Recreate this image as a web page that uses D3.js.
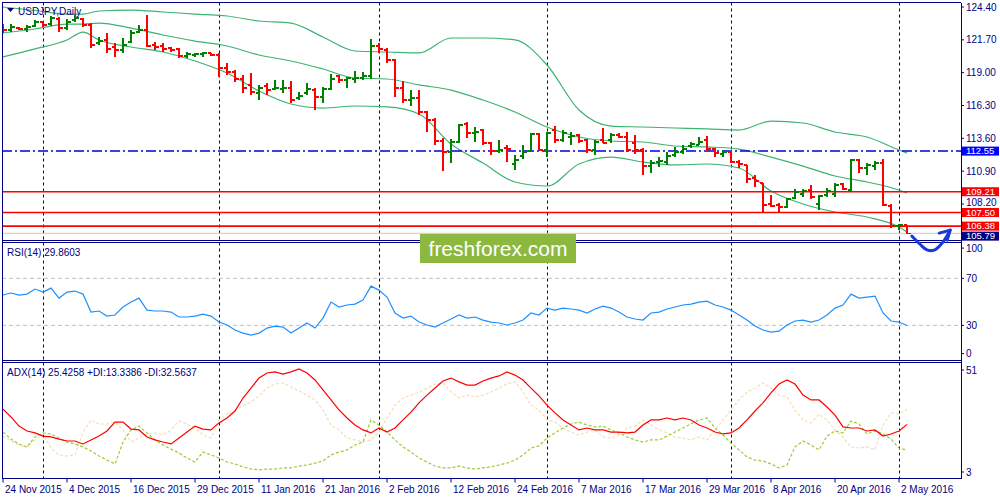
<!DOCTYPE html>
<html><head><meta charset="utf-8">
<script src="https://cdn.jsdelivr.net/npm/d3@7"></script>
<style>body{margin:0;background:#fff}svg{display:block}text{font-family:"Liberation Sans",Arial,sans-serif}</style>
</head><body><svg id="c" width="1000" height="500"></svg>
<script>
// ---------- DATA ----------
const open=[122.76,122.51,122.67,122.59,122.84,123.17,123.00,123.41,122.67,123.33,
123.41,122.92,121.44,121.69,121.11,120.86,121.52,122.34,122.51,121.27,
121.19,121.03,120.95,120.37,120.45,120.53,120.62,120.45,119.38,119.05,
118.48,117.99,117.33,117.90,117.66,117.66,117.74,116.92,117.33,117.57,
117.00,117.66,118.73,118.40,118.48,118.56,118.73,121.19,120.86,120.04,
117.74,116.75,116.92,115.76,115.11,113.38,112.48,113.30,114.78,114.04,
114.28,113.22,112.56,112.80,111.49,112.15,112.56,113.96,112.64,114.28,
113.46,113.71,113.87,113.46,112.64,113.46,113.46,113.87,113.71,113.22,
112.64,111.32,111.65,111.65,112.23,112.48,112.97,113.05,113.46,112.72,
112.31,112.48,111.65,111.41,110.34,109.93,108.20,108.12,107.95,108.69,
109.02,109.35,108.20,108.94,109.02,109.84,109.35,111.82,111.16,111.32,
111.57,108.03,106.39,106.47];
const high=[123.00,123.00,122.76,122.92,123.33,123.25,123.66,123.58,123.41,123.74,
123.50,123.08,121.93,122.26,121.44,121.85,122.51,122.92,123.74,121.52,
121.44,121.11,121.03,120.70,120.62,120.70,120.62,120.62,119.79,119.22,
118.81,118.97,117.99,118.15,118.40,118.40,118.31,117.41,118.15,117.74,
117.82,118.89,118.81,118.64,119.14,119.05,121.77,121.44,121.03,120.12,
118.31,117.57,117.57,115.85,115.27,113.63,113.54,114.78,114.94,114.53,
114.37,113.30,113.46,113.05,112.23,113.05,114.04,114.04,114.12,114.61,
114.28,114.12,113.96,113.54,113.46,114.45,114.04,114.04,114.12,113.87,
112.80,111.82,112.06,112.48,112.89,113.05,113.30,113.71,113.79,112.80,
112.64,112.56,111.82,111.41,110.58,109.93,108.94,108.28,108.69,109.43,
109.43,109.76,108.94,109.51,109.93,109.93,111.90,111.90,111.57,111.74,
111.90,108.20,106.55,106.47];
const low=[122.26,122.34,122.51,122.34,122.76,122.76,122.84,122.34,122.51,123.17,
122.76,121.03,121.27,120.62,120.29,120.62,121.44,122.26,121.11,120.86,
120.70,120.70,120.21,120.21,120.29,120.29,120.37,118.64,118.81,118.23,
117.33,117.16,116.75,117.16,117.57,117.33,116.50,116.75,117.16,115.93,
116.50,117.57,118.15,117.74,118.15,118.40,118.48,120.62,119.79,117.00,
116.50,116.26,115.52,114.12,113.05,110.91,111.57,113.22,113.63,113.30,
113.05,112.23,112.39,111.65,111.00,111.90,112.48,112.64,112.06,113.22,
113.30,113.05,113.22,112.39,112.23,113.22,113.22,113.63,112.48,112.31,
110.58,110.75,111.24,111.41,112.06,112.31,112.80,113.05,112.48,112.06,
112.06,111.57,111.16,109.93,109.60,107.54,107.95,107.54,107.87,108.61,
108.78,108.61,107.71,108.78,108.78,109.35,109.19,110.75,110.58,111.00,
108.03,106.23,106.06,105.70];
const close=[122.51,122.76,122.59,122.76,123.17,122.92,123.50,122.67,123.17,123.50,
122.92,121.27,121.60,120.95,120.86,121.27,122.26,122.51,121.19,121.11,
120.95,120.86,120.37,120.53,120.53,120.62,120.45,119.38,119.05,118.48,
117.74,117.41,117.74,117.57,117.74,117.74,116.75,117.08,117.66,117.00,
117.66,118.48,118.40,118.56,118.56,118.73,121.19,120.95,120.04,117.74,
116.75,116.92,115.76,115.11,113.38,112.48,113.30,114.70,114.04,114.12,
113.22,112.56,112.64,112.72,111.82,112.48,113.96,112.64,114.04,113.46,
114.04,113.79,113.38,112.64,113.30,113.22,113.87,113.71,112.64,112.64,
111.32,111.57,111.74,112.15,112.48,112.72,113.13,113.30,112.72,112.39,
112.48,111.65,111.49,110.26,110.09,108.12,108.03,107.95,108.61,109.19,
109.27,108.78,108.86,109.27,109.76,109.43,111.82,111.16,111.41,111.57,
108.12,106.39,106.47,105.79];

// Bollinger Bands (20,2) read at sample bars
const bbIdx=[0,4,8,10,12,16,20,24,28,32,36,40,44,48,52,56,60,64,68,72,76,80,84,88,92,96,100,104,108,112,113];
const bbUpper=[124.40,124.11,123.82,123.82,124.07,124.15,123.99,123.82,123.66,123.25,123.08,121.93,120.78,120.70,120.62,121.85,121.85,121.69,119.63,115.93,114.61,114.53,114.45,114.37,114.28,115.02,114.86,114.12,113.71,112.64,112.39];
const bbMiddle=[122.26,122.59,123.00,123.00,123.08,122.67,122.10,121.60,121.19,120.45,119.96,119.30,118.56,118.48,117.99,117.57,116.75,115.76,114.53,113.71,113.38,113.30,112.97,112.89,112.72,112.06,111.32,110.50,110.01,109.35,109.10];
const bbLower=[120.29,120.95,121.69,122.34,121.69,121.11,120.70,119.96,118.97,117.49,116.42,116.09,116.26,116.18,115.60,113.13,111.57,110.01,109.68,111.49,112.06,111.65,111.41,111.49,111.16,109.27,108.20,107.54,107.13,106.31,105.90];

// RSI(14)
const rsi=[55.8,57.5,55.8,56.6,60.9,58.3,61.7,53.2,58.3,59.2,
56.6,41.3,42.2,37.9,38.8,45.6,49.8,53.2,43.0,42.2,
42.2,41.3,37.1,37.1,37.9,39.6,37.9,32.8,30.3,26.0,
23.4,21.7,23.4,27.7,29.4,28.5,23.4,27.7,32.0,27.7,
36.2,49.8,45.6,47.3,48.1,51.5,63.4,60.0,54.1,40.5,
36.2,37.9,32.8,30.3,28.5,32.0,35.4,38.8,36.2,37.1,
34.5,32.8,32.0,30.3,32.0,34.5,40.5,38.8,44.7,43.0,
44.7,43.9,43.0,40.5,43.9,46.4,44.7,41.3,37.1,35.4,
34.5,40.5,41.3,43.9,45.6,47.3,48.1,49.8,50.6,47.3,
45.6,43.0,38.8,34.5,29.4,26.0,24.3,25.1,30.3,33.7,
34.5,32.8,34.5,38.8,44.7,47.3,56.6,53.2,54.1,54.9,
40.5,33.7,32.8,29.86];

// ADX(14), +DI, -DI
const adx=[32.6,28.9,24.6,22.3,21.4,19.9,19.5,18.5,17.6,17.6,
16.2,18.1,19.9,22.3,26.5,26.5,23.2,22.8,19.5,18.1,
17.1,16.2,19.0,21.8,24.6,23.2,22.8,26.1,28.4,31.7,
37.8,42.5,47.2,49.6,50.1,49.1,50.1,51.5,49.6,46.3,
41.6,36.9,32.2,28.4,25.1,22.8,21.4,23.7,21.8,23.7,
27.5,31.2,35.5,39.2,42.5,45.8,47.2,45.4,43.9,43.9,
45.8,47.2,48.2,50.1,48.6,46.3,42.5,38.8,34.5,30.8,
27.5,25.1,22.8,23.7,22.8,22.8,21.8,21.8,21.4,21.8,
25.1,27.5,27.5,28.4,27.5,28.4,27.5,25.1,23.7,21.8,
20.9,21.4,23.7,27.5,31.7,35.5,40.2,44.4,46.3,44.4,
39.2,36.9,36.9,33.6,29.8,24.2,23.7,23.7,22.3,22.8,
19.9,20.9,22.3,25.4258];
const plusDI=[21.8,18.5,16.2,14.8,19.5,21.4,20.9,19.0,17.1,16.2,
14.8,12.9,10.5,8.6,6.8,17.1,22.8,24.6,21.4,18.1,
15.7,13.8,11.9,9.6,7.7,12.4,11.0,9.6,7.7,6.8,
5.4,4.4,4.0,4.4,4.4,4.9,4.9,5.8,6.3,7.2,
8.2,11.0,12.4,13.4,15.7,17.1,27.5,25.1,21.8,18.1,
14.8,12.4,9.6,7.7,5.8,4.9,4.9,5.8,4.9,4.4,
4.9,5.4,6.3,7.2,8.6,11.0,14.3,15.3,19.0,21.4,
23.7,25.6,26.5,25.1,24.2,24.6,22.8,21.4,19.5,18.1,
17.1,18.1,18.1,19.9,21.8,23.7,25.6,27.5,28.4,23.7,
20.4,16.6,13.4,10.1,8.6,8.2,6.8,4.9,6.3,14.8,
17.6,15.7,13.4,19.9,22.3,21.4,27.0,25.6,20.9,22.3,
20.9,18.5,14.3,13.3386];
const minusDI=[19.9,17.6,15.7,14.8,18.1,20.9,14.3,11.0,10.5,11.0,
21.8,27.5,25.6,25.6,26.5,22.8,17.1,19.0,20.9,21.4,
20.4,22.8,27.0,25.6,23.7,20.4,19.0,27.5,30.3,32.2,
34.1,36.0,38.8,42.5,44.4,44.9,43.0,41.1,39.2,36.9,
32.2,25.1,22.8,19.0,18.1,17.1,18.1,21.8,28.4,34.5,
37.8,39.2,40.6,42.5,44.4,44.9,40.6,37.8,39.2,38.3,
39.2,40.6,42.5,44.4,45.4,40.6,34.5,32.2,27.5,26.5,
23.7,21.8,20.4,21.8,22.8,19.5,19.0,20.4,23.7,24.6,
27.5,25.1,22.8,21.4,19.5,19.0,18.1,19.5,18.1,22.8,
27.5,32.2,36.9,40.6,42.5,44.9,42.5,39.2,38.3,32.2,
27.5,26.1,30.3,27.5,22.8,19.5,14.8,14.3,14.8,13.4,
25.1,30.8,30.3,32.5637];

const dateLabels=["24 Nov 2015","4 Dec 2015","16 Dec 2015","29 Dec 2015","11 Jan 2016","21 Jan 2016","2 Feb 2016","12 Feb 2016","24 Feb 2016","7 Mar 2016","17 Mar 2016","29 Mar 2016","8 Apr 2016","20 Apr 2016","2 May 2016"];
const dateLabelIdx=[0,8,16,24,32,40,48,56,64,72,80,88,96,104,112];
const separatorIdx=[5,27,47,68,91,112];
const priceTicks=[124.40,121.70,119.00,116.30,113.60,110.90,108.20];
const resistanceLevel=112.55;
const supportLevels=[109.21,107.50,106.38];
const bidPrice=105.79;
const rsiLevels=[70,30];
const rsiTicks=[100,70,30,0];
const adxTicks=[51,3];
// hand-drawn arrow (bar index, price)
const arrowIdx=[113.6,114.6,115.5,116.4,117.4,118.4];
const arrowPrice=[105.57,104.91,104.42,104.40,104.99,106.05];

// ---------- LAYOUT ----------
const svg=d3.select("#c");
const navy="#000080";
const L=2,R=961;
const main={top:2.5,bottom:240.5}, rsiP={top:242.5,bottom:360.5}, adxP={top:362.5,bottom:478.5};
const x=d3.scaleLinear().domain([0,113]).range([3,907]);
const yP=d3.scaleLinear().domain([124.4,108.2]).range([7,204]);
const yR=d3.scaleLinear().domain([0,100]).range([360.6,243.1]);
const yA=d3.scaleLinear().domain([3,51]).range([472,370]);

const defs=svg.append("defs");
[["cm",main],["cr",rsiP],["ca",adxP]].forEach(([id,p])=>{
  defs.append("clipPath").attr("id",id).append("rect").attr("x",L).attr("y",p.top).attr("width",R-L).attr("height",p.bottom-p.top);
});

// separators
svg.append("g").selectAll("line").data(separatorIdx).join("line")
  .attr("x1",d=>x(d)+0.5).attr("x2",d=>x(d)+0.5).attr("y1",main.top).attr("y2",adxP.bottom)
  .attr("stroke",navy).attr("stroke-width",1).attr("stroke-dasharray","3,3");

// main panel
const gm=svg.append("g").attr("clip-path","url(#cm)");
gm.append("line").attr("x1",L).attr("x2",R).attr("y1",yP(bidPrice)).attr("y2",yP(bidPrice)).attr("stroke","#c8c8c8").attr("stroke-width",1);
const bbLine=d3.line().x((d,k)=>x(bbIdx[k])).y(d=>yP(d)).curve(d3.curveMonotoneX);
[bbUpper,bbMiddle,bbLower].forEach(arr=>{
  gm.append("path").attr("d",bbLine(arr)).attr("fill","none").attr("stroke","#3cb371").attr("stroke-width",1.2);
});
gm.append("line").attr("x1",L).attr("x2",R).attr("y1",yP(resistanceLevel)).attr("y2",yP(resistanceLevel))
  .attr("stroke","#0000e0").attr("stroke-width",1.5).attr("stroke-dasharray","10,3,2,3");
gm.selectAll(".sup").data(supportLevels).join("line").attr("class","sup")
  .attr("x1",L).attr("x2",R).attr("y1",d=>yP(d)).attr("y2",d=>yP(d)).attr("stroke","#ff0000").attr("stroke-width",1.6);
const idx=d3.range(open.length);
gm.selectAll(".bar").data(idx).join("path").attr("class","bar")
  .attr("d",i=>`M${x(i)},${yP(high[i])}V${yP(low[i])}`)
  .attr("stroke",i=>close[i]>=open[i]?"#008000":"#ff0000").attr("stroke-width",2).attr("shape-rendering","crispEdges");
gm.selectAll(".tick").data(idx).join("path").attr("class","tick")
  .attr("d",i=>`M${x(i)-3},${yP(open[i])}H${x(i)}M${x(i)},${yP(close[i])}H${x(i)+4}`)
  .attr("stroke",i=>close[i]>=open[i]?"#008000":"#ff0000").attr("stroke-width",1.5).attr("shape-rendering","crispEdges");

// RSI panel
const gr=svg.append("g").attr("clip-path","url(#cr)");
gr.selectAll("line").data(rsiLevels).join("line").attr("x1",L).attr("x2",R).attr("y1",d=>yR(d)).attr("y2",d=>yR(d))
  .attr("stroke","#c0c0c0").attr("stroke-dasharray","4,3");
gr.append("path").attr("d",d3.line().x((d,i)=>x(i)).y(d=>yR(d))(rsi)).attr("fill","none").attr("stroke","#1e90ff").attr("stroke-width",1.2);

// ADX panel
const ga=svg.append("g").attr("clip-path","url(#ca)");
const aLine=d3.line().x((d,i)=>x(i)).y(d=>yA(d));
ga.append("path").attr("d",aLine(minusDI)).attr("fill","none").attr("stroke","#f5deb3").attr("stroke-width",1.2).attr("stroke-dasharray","3,2");
ga.append("path").attr("d",aLine(plusDI)).attr("fill","none").attr("stroke","#9acd32").attr("stroke-width",1.2).attr("stroke-dasharray","3,2");
ga.append("path").attr("d",aLine(adx)).attr("fill","none").attr("stroke","#ff0000").attr("stroke-width",1.2);

// borders
const bd=svg.append("g").attr("stroke",navy).attr("stroke-width",1).attr("fill","none").attr("shape-rendering","crispEdges");
[main,rsiP,adxP].forEach(p=>{
  bd.append("line").attr("x1",L).attr("x2",R).attr("y1",p.top).attr("y2",p.top);
  bd.append("line").attr("x1",L).attr("x2",R).attr("y1",p.bottom).attr("y2",p.bottom);
});
bd.append("line").attr("x1",L+0.5).attr("x2",L+0.5).attr("y1",main.top).attr("y2",adxP.bottom).attr("stroke-width",1.5);
bd.append("line").attr("x1",R+0.5).attr("x2",R+0.5).attr("y1",main.top).attr("y2",adxP.bottom).attr("stroke-width",1.5);

// right axis labels
const fs="10px";
const axg=svg.append("g");
const boxTops=[];
let lastBottom=-1e9;
[resistanceLevel,...supportLevels,bidPrice].forEach(v=>{
  const top=Math.max(yP(v)-4.5,lastBottom+1); lastBottom=top+9; boxTops.push(top);
});
function tickLabel(y,t){
  axg.append("line").attr("x1",R).attr("x2",R+3).attr("y1",y).attr("y2",y).attr("stroke",navy);
  // keep label clear of the boxed price labels below it
  let ty=y; boxTops.forEach(bt=>{ if(bt>ty-2 && bt<ty+7) ty=bt-6; });
  axg.append("text").attr("x",966).attr("y",ty).attr("dy","0.35em").attr("font-size",fs).attr("fill",navy).text(t);
}
priceTicks.forEach(v=>tickLabel(yP(v),v.toFixed(2)));
rsiTicks.forEach(v=>{
  const y=yR(v); const yy=v===100?y+5:(v===0?y-7:y);
  axg.append("text").attr("x",966).attr("y",yy).attr("dy","0.35em").attr("font-size",fs).attr("fill",navy).text(v);
  axg.append("line").attr("x1",R).attr("x2",R+3).attr("y1",yy).attr("y2",yy).attr("stroke",navy);
});
adxTicks.forEach(v=>tickLabel(yA(v),v));
const boxed=[[resistanceLevel,"#0000ff"],...supportLevels.map(v=>[v,"#ff0000"]),[bidPrice,"#000080"]];
boxed.forEach(([v,bg],k)=>{
  const top=boxTops[k];
  axg.append("rect").attr("x",962).attr("y",top).attr("width",37).attr("height",9).attr("fill",bg);
  axg.append("text").attr("x",966).attr("y",top+4.5).attr("dy","0.35em").attr("font-size","9.5px").attr("fill","#fff").text(v.toFixed(2));
});

// date axis
const dg=svg.append("g");
dg.selectAll("line").data(dateLabelIdx).join("line").attr("x1",d=>x(d)).attr("x2",d=>x(d)).attr("y1",adxP.bottom).attr("y2",adxP.bottom+4).attr("stroke",navy);
dg.selectAll("text").data(dateLabelIdx).join("text").attr("x",d=>x(d)+2).attr("y",489).attr("dy","0.35em")
  .attr("font-size",fs).attr("fill",navy).text((d,k)=>dateLabels[k]);

// panel titles
svg.append("path").attr("d","M7,8H14L10.5,12Z").attr("fill",navy);
svg.append("text").attr("x",18).attr("y",11).attr("dy","0.35em").attr("font-size",fs).attr("fill",navy).text("USDJPY,Daily");
svg.append("text").attr("x",7).attr("y",252).attr("dy","0.35em").attr("font-size",fs).attr("fill",navy).text("RSI(14) 29.8603");
svg.append("text").attr("x",7).attr("y",372).attr("dy","0.35em").attr("font-size",fs).attr("fill",navy).text("ADX(14) 25.4258 +DI:13.3386 -DI:32.5637");

// watermark
svg.append("rect").attr("x",420).attr("y",234).attr("width",156).attr("height",29).attr("fill","#8cb840");
svg.append("text").attr("x",498).attr("y",249).attr("dy","0.35em").attr("text-anchor","middle").attr("font-size","21px").attr("fill","#fff").text("freshforex.com");

// arrow
const ap=arrowIdx.map((d,k)=>[x(d),yP(arrowPrice[k])]);
svg.append("path").attr("d",d3.line().curve(d3.curveCatmullRom)(ap)).attr("fill","none").attr("stroke","#1a3ad8").attr("stroke-width",3).attr("stroke-linecap","round");
const tip=ap[ap.length-1];
svg.append("path").attr("d",`M${tip[0]-11},${tip[1]+3}L${tip[0]},${tip[1]}L${tip[0]-3},${tip[1]+10}`).attr("fill","none").attr("stroke","#1a3ad8").attr("stroke-width",3).attr("stroke-linecap","round").attr("stroke-linejoin","round");
</script></body></html>
